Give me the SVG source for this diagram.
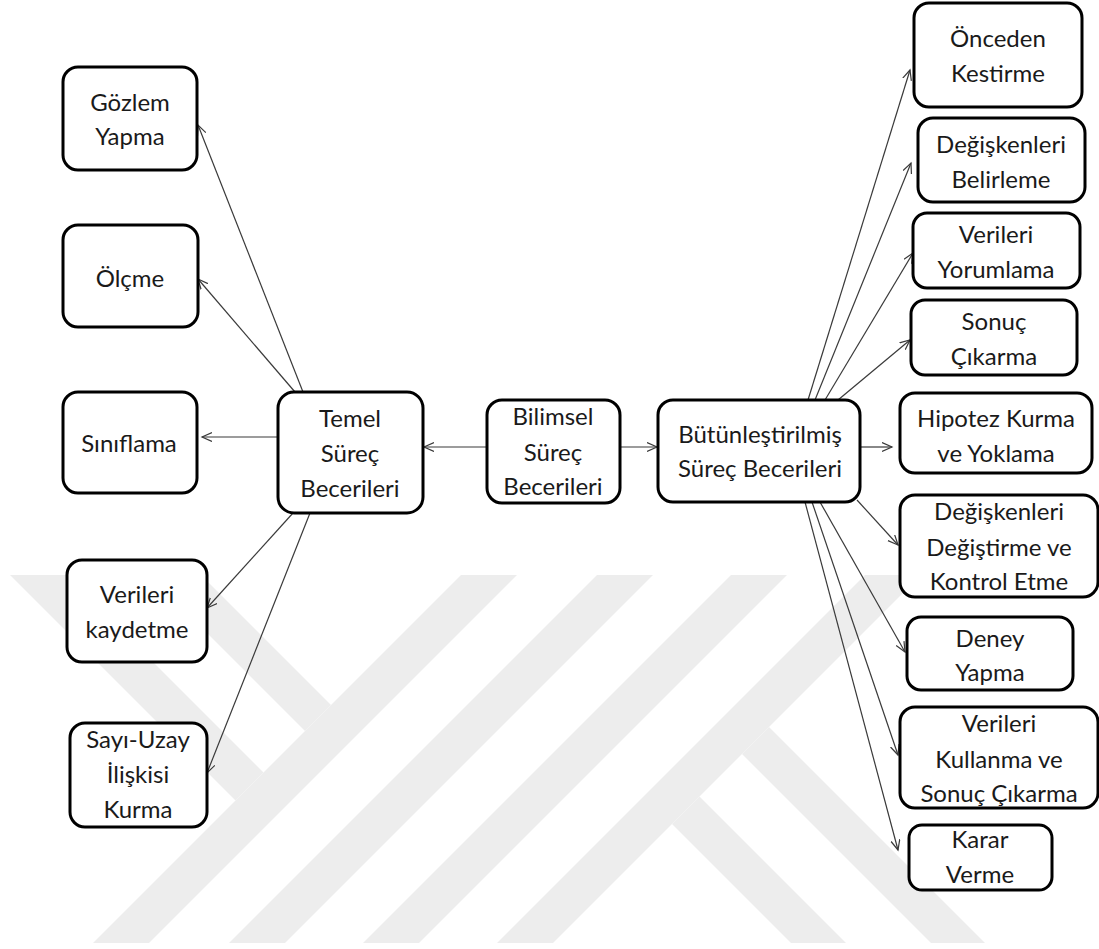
<svg xmlns="http://www.w3.org/2000/svg" width="1099" height="949" viewBox="0 0 1099 949">
<defs>
<style>
.wm{fill:#ededed;stroke:none}
.box{fill:#fff;stroke:#000;stroke-width:3}
.lbl{font-family:Lato,"Liberation Sans",sans-serif;font-size:24px;fill:#1a1a1a;text-anchor:middle}
.con{stroke:#3a3a3a;stroke-width:1.2;fill:none;marker-end:url(#ah)}
</style>
<marker id="ah" markerUnits="userSpaceOnUse" markerWidth="12" markerHeight="12" refX="10" refY="5" orient="auto">
<path d="M0,0.5 L10,5 L0,9.5" fill="none" stroke="#3a3a3a" stroke-width="1.2"/>
</marker>
</defs>
<rect width="1099" height="949" fill="#fff"/>
<g id="watermark">
<polygon class="wm" points="10,575 66,575 263.5,772.5 235.5,800.5"/>
<polygon class="wm" points="149,575 201,575 331,705 305,731"/>
<polygon class="wm" points="461,575 517,575 149,943 93,943"/>
<polygon class="wm" points="597,575 653,575 285,943 229,943"/>
<polygon class="wm" points="731,575 787,575 419,943 363,943"/>
<polygon class="wm" points="865,575 921,575 553,943 497,943"/>
<polygon class="wm" points="769,727 985,943 931,943 742,754"/>
<polygon class="wm" points="699.5,796.5 846,943 791,943 672,824"/>
</g>
<g id="connectors">
<line class="con" x1="303" y1="392" x2="198" y2="125"/>
<line class="con" x1="295" y1="392" x2="198" y2="279"/>
<line class="con" x1="278" y1="437" x2="202" y2="437"/>
<line class="con" x1="293" y1="513" x2="207" y2="608"/>
<line class="con" x1="310" y1="513" x2="207" y2="773"/>
<line class="con" x1="487" y1="447" x2="424" y2="447"/>
<line class="con" x1="620" y1="447" x2="657" y2="447"/>
<line class="con" x1="808" y1="400" x2="910" y2="70"/>
<line class="con" x1="815" y1="400" x2="911" y2="163"/>
<line class="con" x1="825" y1="400" x2="913" y2="253"/>
<line class="con" x1="838" y1="400" x2="910" y2="340"/>
<line class="con" x1="860" y1="447" x2="892" y2="447"/>
<line class="con" x1="857" y1="500" x2="898" y2="545"/>
<line class="con" x1="820" y1="502" x2="905" y2="652"/>
<line class="con" x1="812" y1="502" x2="898" y2="755"/>
<line class="con" x1="805" y1="502" x2="898" y2="850"/>
</g>
<g id="n-gozlem"><rect class="box" x="63" y="67" width="134" height="103" rx="15"/>
<text class="lbl" x="130" y="111">Gözlem</text><text class="lbl" x="130" y="145">Yapma</text></g>
<g id="n-olcme"><rect class="box" x="63" y="225" width="135" height="102" rx="15"/>
<text class="lbl" x="130" y="287">Ölçme</text></g>
<g id="n-siniflama"><rect class="box" x="63" y="392" width="134" height="101" rx="15"/>
<text class="lbl" x="129" y="452">Sınıflama</text></g>
<g id="n-verileri-kaydetme"><rect class="box" x="67" y="560" width="140" height="102" rx="15"/>
<text class="lbl" x="137" y="603">Verileri</text><text class="lbl" x="137" y="638">kaydetme</text></g>
<g id="n-sayi-uzay"><rect class="box" x="70" y="723" width="137" height="104" rx="15"/>
<text class="lbl" x="138" y="748">Sayı-Uzay</text><text class="lbl" x="138" y="783">İlişkisi</text><text class="lbl" x="138" y="818">Kurma</text></g>
<g id="n-temel"><rect class="box" x="278" y="392" width="145" height="121" rx="16"/>
<text class="lbl" x="350" y="427">Temel</text><text class="lbl" x="350" y="462">Süreç</text><text class="lbl" x="350" y="497">Becerileri</text></g>
<g id="n-bilimsel"><rect class="box" x="487" y="400" width="133" height="103" rx="15"/>
<text class="lbl" x="553" y="425">Bilimsel</text><text class="lbl" x="553" y="461">Süreç</text><text class="lbl" x="553" y="495">Becerileri</text></g>
<g id="n-butunlestirilmis"><rect class="box" x="658" y="400" width="202" height="102" rx="15"/>
<text class="lbl" x="760" y="443">Bütünleştirilmiş</text><text class="lbl" x="760" y="477">Süreç Becerileri</text></g>
<g id="n-onceden"><rect class="box" x="914" y="3" width="168" height="104" rx="15"/>
<text class="lbl" x="998" y="47">Önceden</text><text class="lbl" x="998" y="82">Kestirme</text></g>
<g id="n-degiskenleri-belirleme"><rect class="box" x="918" y="118" width="167" height="84" rx="15"/>
<text class="lbl" x="1001" y="153">Değişkenleri</text><text class="lbl" x="1001" y="188">Belirleme</text></g>
<g id="n-verileri-yorumlama"><rect class="box" x="913" y="213" width="167" height="75" rx="14"/>
<text class="lbl" x="996" y="243">Verileri</text><text class="lbl" x="996" y="278">Yorumlama</text></g>
<g id="n-sonuc-cikarma"><rect class="box" x="911" y="300" width="166" height="75" rx="14"/>
<text class="lbl" x="994" y="330">Sonuç</text><text class="lbl" x="994" y="365">Çıkarma</text></g>
<g id="n-hipotez"><rect class="box" x="900" y="393" width="192" height="80" rx="15"/>
<text class="lbl" x="996" y="427">Hipotez Kurma</text><text class="lbl" x="996" y="462">ve Yoklama</text></g>
<g id="n-degiskenleri-degistirme"><rect class="box" x="900" y="495" width="198" height="102" rx="15"/>
<text class="lbl" x="999" y="520">Değişkenleri</text><text class="lbl" x="999" y="556">Değiştirme ve</text><text class="lbl" x="999" y="590">Kontrol Etme</text></g>
<g id="n-deney"><rect class="box" x="907" y="617" width="166" height="73" rx="14"/>
<text class="lbl" x="990" y="647">Deney</text><text class="lbl" x="990" y="681">Yapma</text></g>
<g id="n-verileri-kullanma"><rect class="box" x="900" y="707" width="198" height="101" rx="15"/>
<text class="lbl" x="999" y="732">Verileri</text><text class="lbl" x="999" y="768">Kullanma ve</text><text class="lbl" x="999" y="802">Sonuç Çıkarma</text></g>
<g id="n-karar"><rect class="box" x="909" y="825" width="143" height="65" rx="13"/>
<text class="lbl" x="980" y="848">Karar</text><text class="lbl" x="980" y="883">Verme</text></g>
</svg>
